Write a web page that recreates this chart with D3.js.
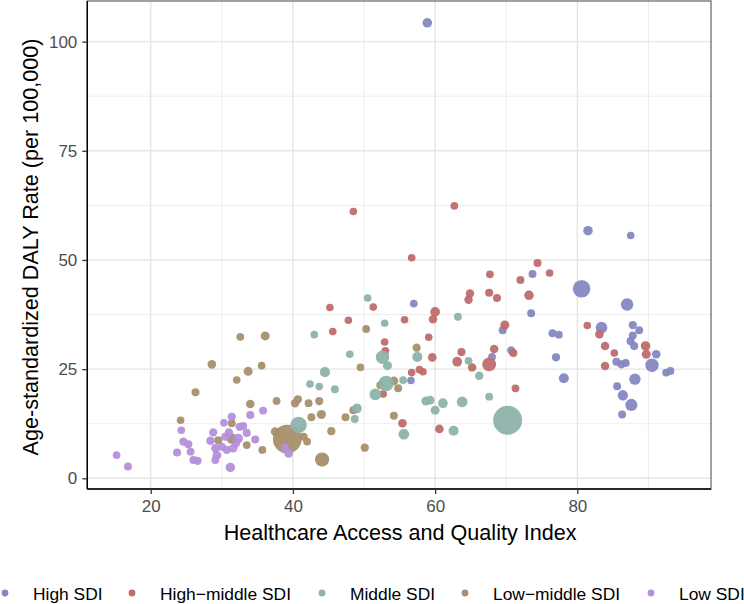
<!DOCTYPE html>
<html>
<head>
<meta charset="utf-8">
<script src="https://cdn.jsdelivr.net/npm/d3@7"></script>
<style>
  html, body { margin: 0; padding: 0; background: #fff; }
  svg { display: block; font-family: "Liberation Sans", Arial, Helvetica, sans-serif; }
</style>
</head>
<body>
<svg id="chart" width="744" height="604"></svg>
<script>
// ---------------- DATA ----------------
// each row: [HAQ index, age-standardized DALY rate, population (millions, estimated)]
const seriesNames = ["High SDI", "High\u2212middle SDI", "Middle SDI", "Low\u2212middle SDI", "Low SDI"];
const seriesColors = ["#8488C1", "#BF6B6D", "#8DB3AA", "#A88F6B", "#B48FDA"];

const highSDI = [
  [58.9,104.3,22],[81.5,56.7,22],[87.5,55.6,2],[57.0,40.0,2],[69.5,33.9,4],
  [68.0,27.8,3],[70.7,29.3,6],[56.6,22.4,2],[73.7,46.8,4],[80.6,43.4,330],
  [87.0,39.8,90],[73.5,37.8,4],[76.5,33.2,4],[77.4,32.9,3],[83.4,34.5,67],
  [87.8,35.1,6],[88.7,33.9,3],[87.8,32.7,4],[87.5,31.4,5],[88.0,30.3,5],
  [91.1,28.4,10],[90.5,25.9,126],[92.5,24.2,4],[93.1,24.6,3],[77.0,27.7,5],
  [85.5,26.7,5],[86.2,26.1,5],[86.8,26.4,4],[78.1,22.9,30],[88.1,22.7,60],
  [85.6,21.1,4],[86.4,19.0,38],[87.6,16.8,83],[86.3,14.6,4]
];
const highMiddleSDI = [
  [48.5,61.1,2],[62.7,62.4,3],[56.7,50.5,2],[67.7,46.7,3],[72.0,45.4,4],
  [74.4,49.3,4],[76.1,47.0,2],[73.2,41.9,22],[64.9,42.3,8],[64.7,40.9,8],
  [67.6,42.5,5],[68.7,41.3,5],[51.3,39.2,2],[45.2,39.1,2],[60.0,38.1,25],
  [59.7,36.4,8],[55.7,36.3,2],[47.8,36.2,2],[45.6,33.6,2],[69.8,35.1,14],
  [59.1,32.3,2],[52.9,31.2,2],[53.0,29.2,3],[59.6,27.7,10],[63.7,28.9,5],
  [63.1,26.7,25],[65.2,25.4,8],[68.3,29.6,8],[67.6,26.1,145],[71.0,28.7,5],
  [56.7,24.2,2],[57.8,24.9,3],[58.3,24.4,2],[52.7,19.3,2],[71.3,20.6,3],
  [55.4,12.6,10],[60.6,11.3,10],[81.4,35.0,2],[83.1,33.0,8],[83.9,30.3,8],
  [85.2,28.7,2],[89.6,30.3,22],[89.7,28.4,14],[83.9,25.7,8]
];
const middleSDI = [
  [50.5,41.3,2],[63.2,37.0,4],[52.9,35.5,2],[43.0,32.9,2],[48.0,28.4,2],
  [52.6,27.7,128],[57.5,27.8,30],[53.3,25.8,14],[64.7,26.9,3],[66.2,23.5,8],
  [44.5,24.3,32],[55.5,22.5,3],[53.1,21.7,212],[51.6,19.2,70],[42.4,21.6,2],
  [43.7,21.0,2],[45.9,20.4,4],[67.6,18.7,3],[58.7,17.7,14],[59.3,17.9,10],
  [60.0,15.6,14],[61.1,17.2,25],[63.8,17.5,45],[49.0,16.0,25],[48.7,13.6,4],
  [55.6,10.1,45],[62.6,10.9,30],[70.2,13.3,1420],[40.8,12.2,270]
];
const lowMiddleSDI = [
  [32.6,32.4,3],[36.1,32.6,14],[35.6,25.8,2],[28.6,26.1,10],[33.7,24.5,14],
  [32.1,22.5,2],[26.3,19.7,4],[34.0,17.0,8],[37.7,17.7,3],[40.3,17.2,8],
  [40.7,18.1,5],[24.2,13.3,2],[31.4,12.6,3],[37.5,10.7,10],[39.2,9.0,1380],
  [29.5,8.7,4],[33.5,7.6,3],[31.4,9.1,40],[35.7,6.5,3],[41.5,9.5,5],
  [42.0,8.4,3],[50.3,34.2,3],[49.5,25.4,2],[57.4,29.9,6],[54.2,22.3,10],
  [54.8,20.6,4],[52.3,21.3,5],[42.2,17.2,3],[43.7,17.7,6],[44.0,14.6,16],
  [42.6,14.0,4],[47.4,14.0,4],[48.5,15.6,4],[54.2,14.3,4],[45.4,10.8,5],
  [50.1,7.0,6],[44.1,4.3,160]
];
const lowSDI = [
  [15.2,5.3,2],[16.8,2.7,4],[23.7,5.9,5],[25.6,6.1,3],[26.0,4.2,4],
  [26.6,4.0,6],[24.3,11.0,2],[24.6,8.4,6],[25.3,7.8,4],[28.4,8.6,8],
  [28.8,10.5,6],[29.1,6.9,8],[29.3,5.3,10],[29.1,4.2,4],[30.0,7.2,5],
  [30.7,6.5,6],[31.6,6.9,8],[30.3,12.7,2],[31.4,14.1,5],[32.5,11.8,6],
  [33.5,10.4,5],[34.0,14.5,5],[35.8,15.5,4],[34.7,8.9,4],[32.3,9.1,25],
  [31.2,2.5,20],[38.9,6.9,10],[39.4,5.7,10],[31.0,10.5,6],[32.0,8.0,6],
  [30.5,9.5,5],[33.0,12.0,4]
];

const xTicks = [20, 40, 60, 80];
const yTicks = [0, 25, 50, 75, 100];
const xMinor = [30, 50, 70, 90];
const yMinor = [12.5, 37.5, 62.5, 87.5];

const xTitle = "Healthcare Access and Quality Index";
const yTitle = "Age-standardized DALY Rate (per 100,000)";

// ---------------- CHART ----------------
const svg = d3.select("#chart");
const panel = { left: 87.3, right: 711, top: 1, bottom: 489 };

const x = d3.scaleLinear().domain([11.08, 98.8]).range([panel.left, panel.right]);
const y = d3.scaleLinear().domain([-2.45, 109.3]).range([panel.bottom, panel.top]);
const r = d3.scaleSqrt().domain([0, 1420]).range([3.4, 14.5]);

svg.append("rect").attr("x", 0).attr("y", 0).attr("width", 744).attr("height", 604).attr("fill", "#fff");

const grid = svg.append("g");
grid.selectAll(".xminor").data(xMinor).join("line")
  .attr("x1", d => x(d)).attr("x2", d => x(d)).attr("y1", panel.top).attr("y2", panel.bottom)
  .attr("stroke", "#EBEBEB").attr("stroke-width", 0.9);
grid.selectAll(".yminor").data(yMinor).join("line")
  .attr("y1", d => y(d)).attr("y2", d => y(d)).attr("x1", panel.left).attr("x2", panel.right)
  .attr("stroke", "#EBEBEB").attr("stroke-width", 0.9);
grid.selectAll(".xmajor").data(xTicks).join("line")
  .attr("x1", d => x(d)).attr("x2", d => x(d)).attr("y1", panel.top).attr("y2", panel.bottom)
  .attr("stroke", "#E6E6E6").attr("stroke-width", 1.4);
grid.selectAll(".ymajor").data(yTicks).join("line")
  .attr("y1", d => y(d)).attr("y2", d => y(d)).attr("x1", panel.left).attr("x2", panel.right)
  .attr("stroke", "#E6E6E6").attr("stroke-width", 1.4);

const allSeries = [highSDI, highMiddleSDI, middleSDI, lowMiddleSDI, lowSDI];
const drawOrder = [0, 1, 3, 2, 4];
const pts = svg.append("g");
drawOrder.forEach(i => {
  pts.append("g").selectAll("circle").data(allSeries[i]).join("circle")
    .attr("cx", d => x(d[0]))
    .attr("cy", d => y(d[1]))
    .attr("r", d => r(d[2]))
    .attr("fill", seriesColors[i])
    .attr("fill-opacity", 0.95);
});

svg.append("rect")
  .attr("x", panel.left).attr("y", panel.top)
  .attr("width", panel.right - panel.left).attr("height", panel.bottom - panel.top)
  .attr("fill", "none").attr("stroke", "#6E6E6E").attr("stroke-width", 1.3);

const xAxis = svg.append("g").attr("transform", `translate(0,${panel.bottom})`)
  .call(d3.axisBottom(x).tickValues(xTicks).tickSize(5).tickPadding(6).tickSizeOuter(0));
const yAxis = svg.append("g").attr("transform", `translate(${panel.left},0)`)
  .call(d3.axisLeft(y).tickValues(yTicks).tickSize(5).tickPadding(5).tickSizeOuter(0));
[xAxis, yAxis].forEach(a => {
  a.select(".domain").attr("stroke", "#000").attr("stroke-width", 1.4);
  a.selectAll(".tick line").attr("stroke", "#333").attr("stroke-width", 1.3);
  a.selectAll(".tick text").attr("fill", "#4D4D4D").attr("font-size", 17)
    .attr("font-family", "Liberation Sans, Arial, sans-serif");
});
xAxis.select(".domain").attr("d", `M${panel.left},0H${panel.right}`);
yAxis.select(".domain").attr("d", `M0,${panel.top}V${panel.bottom}`);

svg.append("text")
  .attr("x", (panel.left + panel.right) / 2 + 1).attr("y", 540)
  .attr("text-anchor", "middle").attr("font-size", 21.6).attr("fill", "#000")
  .text(xTitle);
svg.append("text")
  .attr("transform", `translate(37.5,${(panel.top + panel.bottom) / 2 + 2}) rotate(-90)`)
  .attr("text-anchor", "middle").attr("font-size", 21.6).attr("fill", "#000")
  .text(yTitle);

const legendX = [5, 132, 322, 465, 651];
const lg = svg.append("g");
seriesNames.forEach((name, i) => {
  lg.append("circle").attr("cx", legendX[i]).attr("cy", 593).attr("r", 3.4)
    .attr("fill", seriesColors[i]);
  lg.append("text").attr("x", legendX[i] + 28).attr("y", 599.5)
    .attr("font-size", 17.4).attr("fill", "#000").text(name);
});
</script>
</body>
</html>
